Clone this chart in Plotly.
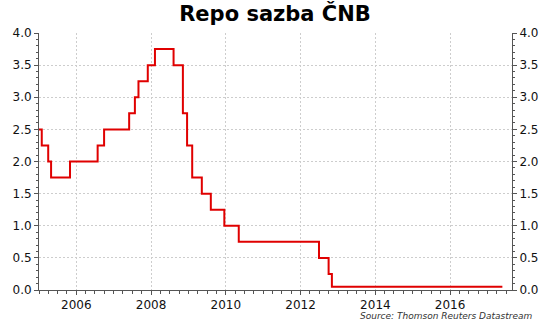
import plotly.graph_objects as go

# CNB two-week repo rate (%), date each new rate took effect
change_dates = [
    "2005-01-01", "2005-01-28", "2005-04-01", "2005-04-29", "2005-10-31",
    "2006-07-28", "2006-09-29", "2007-06-01", "2007-07-27", "2007-08-31",
    "2007-11-30", "2008-02-08", "2008-08-08", "2008-11-07", "2008-12-18",
    "2009-02-06", "2009-05-11", "2009-08-07", "2009-12-17", "2010-05-07",
    "2012-06-29", "2012-10-01", "2012-11-02", "2017-05-26",
]
repo_rate = [
    2.50, 2.25, 2.00, 1.75, 2.00,
    2.25, 2.50, 2.75, 3.00, 3.25,
    3.50, 3.75, 3.50, 2.75, 2.25,
    1.75, 1.50, 1.25, 1.00, 0.75,
    0.50, 0.25, 0.05, 0.05,
]

x_tick_vals = ["2006-01-01", "2008-01-01", "2010-01-01", "2012-01-01",
               "2014-01-01", "2016-01-01"]
x_tick_text = ["2006", "2008", "2010", "2012", "2014", "2016"]
y_tick_vals = [0.0, 0.5, 1.0, 1.5, 2.0, 2.5, 3.0, 3.5, 4.0]
y_tick_text = ["0.0", "0.5", "1.0", "1.5", "2.0", "2.5", "3.0", "3.5", "4.0"]

x_range = ["2005-01-01", "2017-08-28"]
y_range = [0, 4]

axis_color = "#555555"
grid_color = "#cdcdcd"
font_family = "DejaVu Sans, Verdana, sans-serif"
tick_font = dict(family=font_family, size=12, color="#111111")

fig = go.Figure()
fig.add_trace(go.Scatter(
    x=change_dates, y=repo_rate, mode="lines",
    line=dict(color="#e00000", width=2, shape="hv"),
    showlegend=False, hoverinfo="x+y",
))
# companion trace so the right-hand value axis is drawn
fig.add_trace(go.Scatter(
    x=[change_dates[0]], y=[repo_rate[0]], yaxis="y2", mode="lines",
    line=dict(width=0), showlegend=False, hoverinfo="skip",
))

y_common = dict(
    range=y_range, tickvals=y_tick_vals, ticktext=y_tick_text,
    showline=True, linecolor=axis_color, linewidth=1,
    ticks="outside", ticklen=4, tickcolor=axis_color, tickfont=tick_font,
    minor=dict(dtick=0.1, ticks="outside", ticklen=2, tickcolor=axis_color, showgrid=False),
    zeroline=False, fixedrange=True,
)

fig.update_layout(
    width=550, height=324,
    margin=dict(l=39, r=36, t=33, b=34),
    paper_bgcolor="white", plot_bgcolor="white",
    title=dict(
        text="<b>Repo sazba ČNB</b>",
        font=dict(family=font_family, size=21, color="black"),
        x=0.5, xref="container", xanchor="center",
        y=1 - 14 / 324, yref="container", yanchor="middle",
    ),
    xaxis=dict(
        type="date", range=x_range, tickvals=x_tick_vals, ticktext=x_tick_text,
        showline=True, linecolor=axis_color, linewidth=1,
        ticks="outside", ticklen=4, tickcolor=axis_color, tickfont=tick_font,
        showgrid=True, gridcolor=grid_color, griddash="2px,2px", gridwidth=1,
        minor=dict(dtick="M3", ticks="outside", ticklen=3, tickcolor=axis_color, showgrid=False),
        zeroline=False, fixedrange=True,
    ),
    yaxis=dict(showgrid=True, gridcolor=grid_color, griddash="2px,2px", gridwidth=1,
               side="left", **y_common),
    yaxis2=dict(overlaying="y", side="right", showgrid=False, **y_common),
    annotations=[dict(
        text="<i>Source: Thomson Reuters Datastream</i>",
        xref="paper", yref="paper", x=1.048, y=-0.103,
        xanchor="right", yanchor="middle", showarrow=False,
        font=dict(family=font_family, size=9, color="#333333"),
    )],
)

fig.write_html("out.html")
